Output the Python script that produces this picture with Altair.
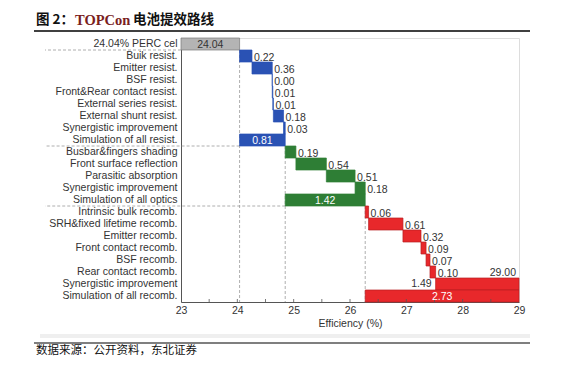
import altair as alt
import pandas as pd

labels = ["24.04% PERC cel", "Buik resist.", "Emitter resist.", "BSF resist.",
          "Front&Rear contact resist.", "External series resist.", "External shunt resist.",
          "Synergistic improvement", "Simulation of all resist.",
          "Busbar&fingers shading", "Front surface reflection", "Parasitic absorption",
          "Synergistic improvement", "Simulation of all optics",
          "Intrinsic bulk recomb.", "SRH&fixed lifetime recomb.", "Emitter recomb.",
          "Front contact recomb.", "BSF recomb.", "Rear contact recomb.",
          "Synergistic improvement", "Simulation of all recomb."]
values = [24.04, 0.22, 0.36, 0.00, 0.01, 0.01, 0.18, 0.03, 0.81,
          0.19, 0.54, 0.51, 0.18, 1.42,
          0.06, 0.61, 0.32, 0.09, 0.07, 0.10, 1.49, 2.73]
kinds = ["base"] + ["step"] * 7 + ["sim"] + ["step"] * 4 + ["sim"] + ["step"] * 7 + ["sim"]
groups = ["perc"] + ["resist"] * 8 + ["optics"] * 5 + ["recomb"] * 8
label_side = ["inside"] + ["right"] * 7 + ["inside"] + ["right"] * 4 + ["inside"] + ["right"] * 6 + ["left", "inside"]
total_label = "29.00"
total_row = 19
x_ticks = [23, 24, 25, 26, 27, 28, 29]
minor_ticks = [23.5, 24, 24.5, 25, 25.5, 26, 26.5, 27, 27.5, 28, 28.5]

group_names = ["perc", "resist", "optics", "recomb"]
group_colors = ["#b4b4b4", "#2a52b4", "#2e7e35", "#e8282b"]
group_strokes = ["#7a7a7a", "#2a52b4", "#2e7e35", "#b81c1f"]

X_MIN, X_MAX = 23, 29
rows = []
running = X_MIN
gbase = X_MIN
for i, (lab, v, k, g, side) in enumerate(zip(labels, values, kinds, groups, label_side)):
    if k == "base":
        s, e = X_MIN, v
        running = e
        gbase = e
    elif k == "step":
        s, e = running, running + v
        running = e
    else:
        s, e = gbase, gbase + v
        gbase = e
        running = e
    rows.append(dict(row=i, label=lab, value=v, start=s, end=min(e, X_MAX),
                     mid=(s + min(e, X_MAX)) / 2, group=g, side=side, kind=k,
                     txt=f"{v:.2f}"))
df = pd.DataFrame(rows)

W, H = 338, 264
FS = 10.5
label_expr = "[" + ",".join("'" + l + "'" for l in labels) + "][datum.value]"

yscale = alt.Scale(domain=list(range(len(labels))), paddingInner=0, paddingOuter=0)
xscale = alt.Scale(domain=[X_MIN, X_MAX], nice=False, zero=False)

base = alt.Chart(df)

bars = base.mark_bar(strokeWidth=0.7).encode(
    x=alt.X("start:Q", scale=xscale,
            axis=alt.Axis(values=x_ticks, format="d", title="Efficiency (%)", grid=False,
                          ticks=False, labelFontSize=FS, labelColor="#333", labelPadding=3,
                          labelFlush=False,
                          titleFontSize=FS, titleFontWeight="normal", titleColor="#333",
                          titlePadding=3, domainColor="#555", labelFont="Liberation Sans",
                          titleFont="Liberation Sans")),
    x2="end:Q",
    y=alt.Y("row:O", scale=yscale,
            axis=alt.Axis(title=None, labelExpr=label_expr, ticks=False, labelPadding=4,
                          labelFontSize=FS, labelColor="#333", domainColor="#555",
                          labelFont="Liberation Sans", labelLimit=300)),
    color=alt.Color("group:N", scale=alt.Scale(domain=group_names, range=group_colors), legend=None),
    stroke=alt.Stroke("group:N", scale=alt.Scale(domain=group_names, range=group_strokes), legend=None),
)

txt_right = base.transform_filter("datum.side == 'right'").mark_text(
    align="left", baseline="middle", dx=2, dy=1.5, fontSize=FS, color="#333", font="Liberation Sans"
).encode(x="end:Q", y=alt.Y("row:O", scale=yscale), text="txt:N")

txt_left = base.transform_filter("datum.side == 'left'").mark_text(
    align="right", baseline="middle", dx=-4, dy=0, fontSize=FS, color="#333", font="Liberation Sans"
).encode(x="start:Q", y=alt.Y("row:O", scale=yscale), text="txt:N")

txt_in_white = base.transform_filter("datum.side == 'inside' && datum.kind == 'sim'").mark_text(
    align="center", baseline="middle", dy=0.5, fontSize=FS, color="white", font="Liberation Sans"
).encode(x="mid:Q", y=alt.Y("row:O", scale=yscale), text="txt:N")

txt_in_dark = base.transform_filter("datum.kind == 'base'").mark_text(
    align="center", baseline="middle", dy=0.5, fontSize=FS, color="#333", font="Liberation Sans"
).encode(x="mid:Q", y=alt.Y("row:O", scale=yscale), text="txt:N")

tot_df = pd.DataFrame([dict(row=total_row, x=X_MAX, txt=total_label)])
txt_total = alt.Chart(tot_df).mark_text(
    align="right", baseline="middle", dx=-3, dy=1, fontSize=FS, color="#333", font="Liberation Sans"
).encode(x="x:Q", y=alt.Y("row:O", scale=yscale), text="txt:N")

# separators: after base and sim rows (except the last)
sep = df[(df.kind != "step") & (df.row < len(labels) - 1)]
hsep = alt.Chart(sep).mark_rule(color="#9a9a9a", strokeDash=[3, 2], strokeWidth=0.8).encode(
    x=alt.X("start:Q"), x2=alt.value(-136),
    y=alt.Y("row:O", scale=yscale, bandPosition=1),
)
vsep = alt.Chart(sep).mark_rule(color="#9a9a9a", strokeDash=[3, 2], strokeWidth=0.8).encode(
    x=alt.X("end:Q"),
    y=alt.Y("row:O", scale=yscale, bandPosition=1), y2=alt.value(H),
)

mt = alt.Chart(pd.DataFrame({"t": minor_ticks})).mark_rule(color="#555", strokeWidth=0.8).encode(
    x="t:Q", y=alt.value(H - 3), y2=alt.value(H)
)

one = pd.DataFrame({"a": [0]})
h1 = alt.Chart(one).mark_text(align="left", baseline="middle", fontSize=13.5, fontWeight="bold",
                              color="#111", font="Noto Sans CJK SC").encode(
    x=alt.value(-145), y=alt.value(-18), text=alt.value("图 2："))
h2 = alt.Chart(one).mark_text(align="left", baseline="middle", fontSize=14.5, fontWeight="bold",
                              color="#7a1e1e", font="Liberation Serif").encode(
    x=alt.value(-106), y=alt.value(-17.5), text=alt.value("TOPCon"))
h3 = alt.Chart(one).mark_text(align="left", baseline="middle", fontSize=13.5, fontWeight="bold",
                              color="#111", font="Noto Sans CJK SC").encode(
    x=alt.value(-48), y=alt.value(-18), text=alt.value("电池提效路线"))
hline = alt.Chart(one).mark_rule(color="#000", strokeWidth=1.5).encode(
    x=alt.value(-147), x2=alt.value(349), y=alt.value(-7))
band = alt.Chart(one).mark_rule(color="#efefef", strokeWidth=4).encode(
    x=alt.value(-141), x2=alt.value(349), y=alt.value(298))
fline = alt.Chart(one).mark_rule(color="#000", strokeWidth=1.2).encode(
    x=alt.value(-147), x2=alt.value(349), y=alt.value(305))
foot = alt.Chart(one).mark_text(align="left", baseline="middle", fontSize=11.5,
                                color="#111", font="Noto Sans CJK SC").encode(
    x=alt.value(-145), y=alt.value(313), text=alt.value("数据来源：公开资料，东北证券"))

chart = alt.layer(
    hsep, vsep, bars, mt, txt_right, txt_left, txt_in_white, txt_in_dark, txt_total,
    h1, h2, h3, hline, band, fline, foot
).properties(
    width=W, height=H,
    autosize=alt.AutoSizeParams(type="none"),
    padding={"left": 173, "top": 30, "right": 30, "bottom": 58},
).configure_view(stroke="#a0a0a0", strokeWidth=1).configure(background="white")

chart.save("out.html", embed_options={"renderer": "svg", "actions": False})
